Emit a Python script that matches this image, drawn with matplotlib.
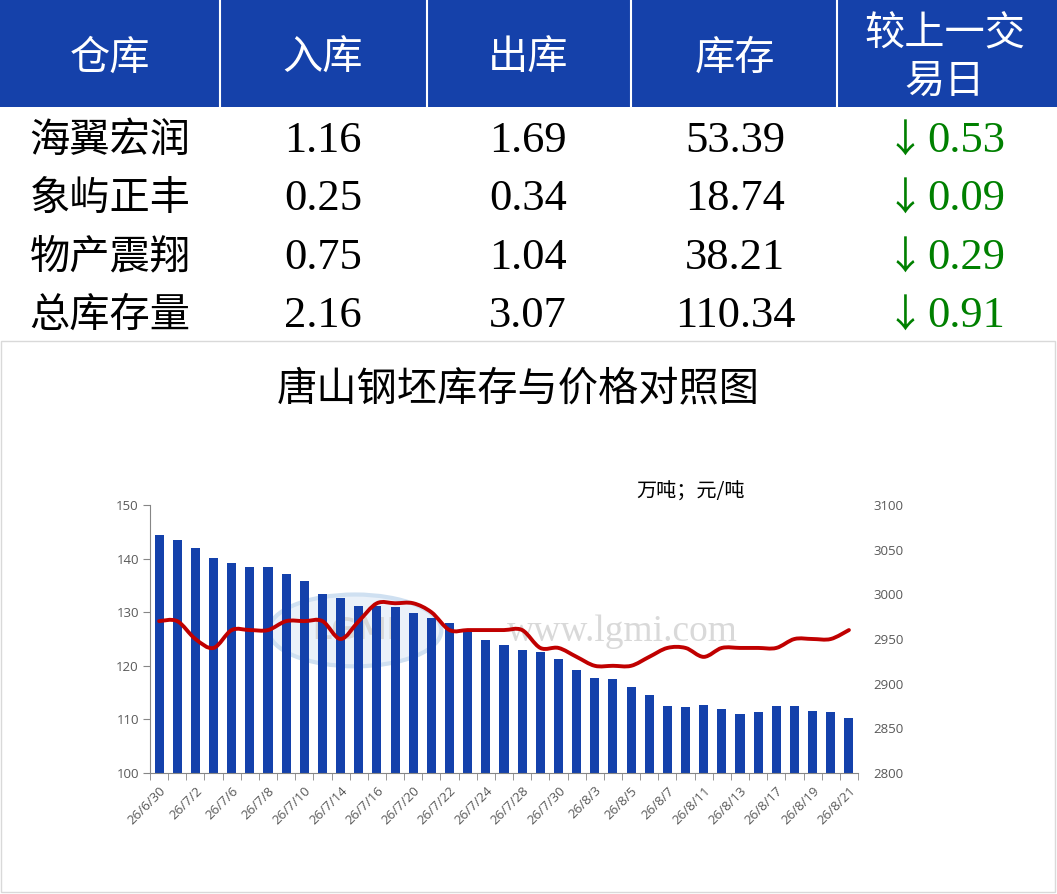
import numpy as np
import matplotlib
matplotlib.use('Agg')
import matplotlib.pyplot as plt
from matplotlib.patches import Rectangle, Ellipse, PathPatch
from matplotlib.path import Path

plt.rcParams['font.family'] = ['Noto Sans CJK SC', 'DejaVu Sans']

# ---- table data ----
header = ['仓库', '入库', '出库', '库存', '较上一交\n易日']
warehouses = ['海翼宏润', '象屿正丰', '物产震翔', '总库存量']
stock_in = ['1.16', '0.25', '0.75', '2.16']
stock_out = ['1.69', '0.34', '1.04', '3.07']
stock_total = ['53.39', '18.74', '38.21', '110.34']
change = ['0.53', '0.09', '0.29', '0.91']

# ---- chart data ----
dates = ['26/6/30', '26/7/1', '26/7/2', '26/7/3', '26/7/6', '26/7/7', '26/7/8', '26/7/9',
         '26/7/10', '26/7/13', '26/7/14', '26/7/15', '26/7/16', '26/7/17', '26/7/20',
         '26/7/21', '26/7/22', '26/7/23', '26/7/24', '26/7/27', '26/7/28', '26/7/29',
         '26/7/30', '26/7/31', '26/8/3', '26/8/4', '26/8/5', '26/8/6', '26/8/7',
         '26/8/10', '26/8/11', '26/8/12', '26/8/13', '26/8/14', '26/8/17', '26/8/18',
         '26/8/19', '26/8/20', '26/8/21']
inventory = [144.4, 143.4, 141.9, 140.1, 139.1, 138.4, 138.4, 137.1, 135.8, 133.4,
             132.7, 131.2, 131.2, 130.9, 129.9, 128.9, 127.9, 126.6, 124.9, 123.8,
             123.0, 122.5, 121.2, 119.2, 117.8, 117.5, 116.0, 114.5, 112.5, 112.3,
             112.7, 112.0, 111.0, 111.3, 112.5, 112.5, 111.5, 111.3, 110.34]
price = [2970, 2970, 2950, 2940, 2960, 2960, 2960, 2970, 2970, 2970,
         2950, 2970, 2990, 2990, 2990, 2980, 2960, 2960, 2960, 2960,
         2960, 2940, 2940, 2930, 2920, 2920, 2920, 2930, 2940, 2940,
         2930, 2940, 2940, 2940, 2940, 2950, 2950, 2950, 2960]

W, H = 1057, 894
fig = plt.figure(figsize=(W / 100, H / 100), dpi=100)
fig.patch.set_facecolor('white')

blue = '#1541AA'
green = '#008000'

# table area in pixel coordinates
ax_t = fig.add_axes([0, 1 - 340 / H, 1, 340 / H])
ax_t.set_xlim(0, W)
ax_t.set_ylim(340, 0)
ax_t.axis('off')
ax_t.add_patch(Rectangle((0, 0), W, 107, color=blue, lw=0))
for xs in [220, 427, 631, 837]:
    ax_t.plot([xs, xs], [0, 107], color='white', lw=1.5)

col_x = [110, 323, 528, 735, 945]
for cx, h in zip(col_x, header):
    ax_t.text(cx, 58, h, color='white', fontsize=29, ha='center', va='center',
              linespacing=1.2)

row_y = [141, 199, 258, 316]
num_font = ['Liberation Serif', 'DejaVu Serif']
for i, ry in enumerate(row_y):
    ax_t.text(110, ry - 1, warehouses[i], fontsize=29, ha='center', va='center', color='black')
    ax_t.text(col_x[1], ry, stock_in[i], fontsize=32, ha='center', va='center', family=num_font)
    ax_t.text(col_x[2], ry, stock_out[i], fontsize=32, ha='center', va='center', family=num_font)
    ax_t.text(col_x[3], ry, stock_total[i], fontsize=32, ha='center', va='center', family=num_font)
    ax_t.text(905, ry, '↓', fontsize=28, ha='center', va='center', color=green,
              family=['Noto Sans CJK SC', 'DejaVu Sans'])
    ax_t.text(966, ry, change[i], fontsize=32, ha='center', va='center', color=green,
              family=num_font)

# chart frame
fig.patches.append(Rectangle((1 / W, 2 / H), 1054 / W, 551 / H, transform=fig.transFigure,
                             fill=False, edgecolor='#D9D9D9', lw=1))

fig.text(518 / W, 1 - 389 / H, '唐山钢坯库存与价格对照图', fontsize=29, ha='center', va='center')
fig.text(691 / W, 1 - 492 / H, '万吨；元/吨', fontsize=14.5, ha='center', va='center')

ax = fig.add_axes([150 / W, 1 - 773 / H, 708 / W, 268 / H])
ax2 = ax.twinx()
ax.set_zorder(1)
ax2.set_zorder(2)
ax.patch.set_visible(False)
ax2.patch.set_visible(False)

x = np.arange(len(dates))

# watermark behind the bars
ax.add_patch(Ellipse((10.8, 126.6), 9.5, 13.4, facecolor='#EAF1F9', edgecolor='#CFE0F1',
                     lw=3, zorder=0))
ax.text(10.8, 126.6, 'LGMI', fontsize=22, color='#D8D8D8', ha='center', va='center',
        fontweight='bold', family=['DejaVu Sans'], zorder=0)
ax.text(25.5, 126.4, 'www.lgmi.com', fontsize=27, color='#D9D9D9', ha='center', va='center',
        family=['Liberation Serif'], zorder=0)

ax.bar(x, inventory, width=0.5, color='#1441AB', zorder=2)
ax.set_xlim(-0.5, len(dates) - 0.5)
ax.set_ylim(100, 150)
ax.set_yticks(np.arange(100, 151, 10))

ax.set_xticks(x[::2])
ax.set_xticklabels(dates[::2], rotation=45, ha='right', rotation_mode='anchor')
ax.set_xticks(np.arange(-0.5, len(dates), 1), minor=True)
ax.tick_params(axis='x', which='major', length=0, pad=8, labelsize=9.5, labelcolor='#595959')
ax.tick_params(axis='x', which='minor', length=5, color='#868686')
ax.tick_params(axis='y', length=5, color='#868686', labelsize=9.5, labelcolor='#595959', pad=3)
for lbl in ax.get_xticklabels() + ax.get_yticklabels():
    lbl.set_family(['Open Sans', 'DejaVu Sans'])

for s in ['top', 'right']:
    ax.spines[s].set_visible(False)
for s in ['left', 'bottom']:
    ax.spines[s].set_color('#868686')

# smoothed price line (Catmull-Rom as cubic Bezier segments)
pts = np.column_stack([x, price]).astype(float)
verts = [tuple(pts[0])]
codes = [Path.MOVETO]
n = len(pts)
for i in range(n - 1):
    p0 = pts[max(i - 1, 0)]
    p1 = pts[i]
    p2 = pts[i + 1]
    p3 = pts[min(i + 2, n - 1)]
    c1 = p1 + (p2 - p0) / 6
    c2 = p2 - (p3 - p1) / 6
    verts += [tuple(c1), tuple(c2), tuple(p2)]
    codes += [Path.CURVE4] * 3
ax2.add_patch(PathPatch(Path(verts, codes), facecolor='none', edgecolor='#C00000', lw=2.8,
                        capstyle='round', joinstyle='round', zorder=3))

ax2.set_ylim(2800, 3100)
ax2.set_yticks(np.arange(2800, 3101, 50))
ax2.tick_params(axis='y', length=0, labelsize=9.5, labelcolor='#595959', pad=11)
for lbl in ax2.get_yticklabels():
    lbl.set_family(['Open Sans', 'DejaVu Sans'])
for s in ax2.spines.values():
    s.set_visible(False)

fig.savefig('out.png', dpi=100)
